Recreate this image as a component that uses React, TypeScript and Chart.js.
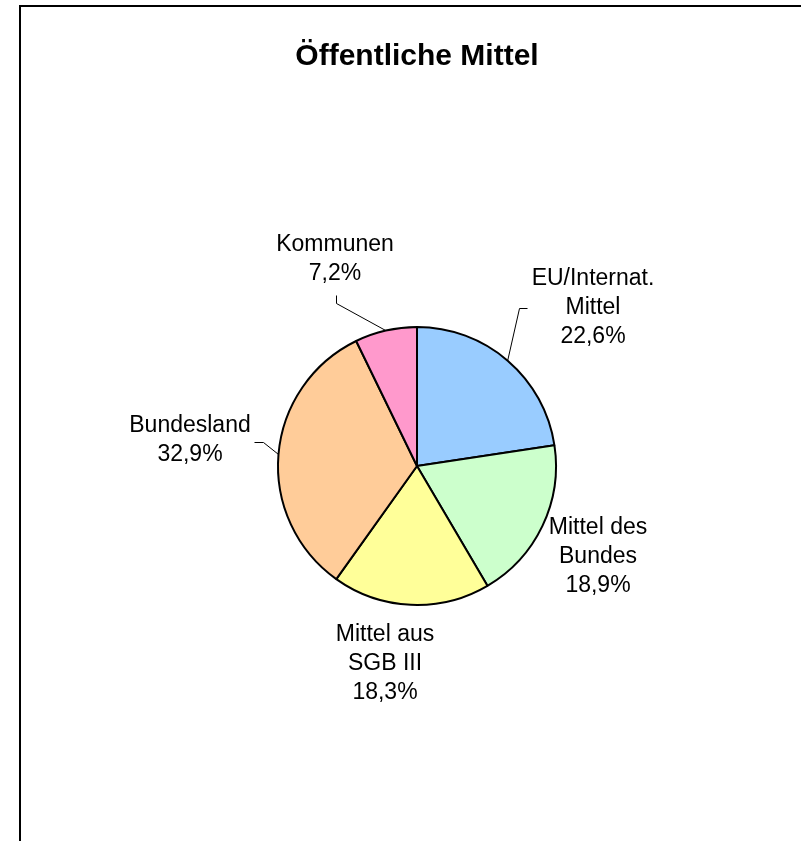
import React, { useEffect, useRef } from "react";
import { Chart, registerables } from "chart.js";

Chart.register(...registerables);

const TITLE = "Öffentliche Mittel";
const categories = ["EU/Internat. Mittel", "Mittel des Bundes", "Mittel aus SGB III", "Bundesland", "Kommunen"];
const values = [22.6, 18.9, 18.3, 32.9, 7.2];
const labelLines = [
  ["EU/Internat.", "Mittel"],
  ["Mittel des", "Bundes"],
  ["Mittel aus", "SGB III"],
  ["Bundesland"],
  ["Kommunen"],
];
const colors = ["#99CCFF", "#CCFFCC", "#FFFF99", "#FFCC99", "#FF99CC"];

// label block centre relative to pie centre, and leader elbow points (relative to pie centre)
const labelLayout = [
  { dx: 176, dy: -158, leader: [[110, -158], [102, -158]] },
  { dx: 181, dy: 91, leader: null },
  { dx: -32, dy: 198, leader: null },
  { dx: -227, dy: -26, leader: [[-163, -24], [-154, -24]] },
  { dx: -82, dy: -207, leader: [[-81, -171], [-81, -163]] },
];

const FONT = '"Liberation Sans", Arial, Helvetica, sans-serif';
const fmt = (v: number) => v.toFixed(1).replace(".", ",") + "%";

const decorPlugin = {
  id: "decor",
  beforeDraw(chart: any) {
    const ctx = chart.ctx;
    ctx.save();
    ctx.fillStyle = "#ffffff";
    ctx.fillRect(0, 0, chart.width, chart.height);
    ctx.strokeStyle = "#000000";
    ctx.lineWidth = 2;
    ctx.beginPath();
    ctx.moveTo(20, chart.height);
    ctx.lineTo(20, 6);
    ctx.lineTo(chart.width, 6);
    ctx.stroke();
    // title
    ctx.fillStyle = "#000";
    ctx.font = "bold 30px " + FONT;
    ctx.textAlign = "center";
    ctx.textBaseline = "alphabetic";
    ctx.fillText(TITLE, 417, 65);
    ctx.restore();
  },
  afterDatasetsDraw(chart: any) {
    const ctx = chart.ctx;
    const meta = chart.getDatasetMeta(0);
    ctx.save();
    meta.data.forEach((arc: any, i: number) => {
      const p = arc.getProps(["x", "y", "startAngle", "endAngle", "outerRadius"], true);
      const cx = p.x, cy = p.y;
      const lay = labelLayout[i];
      const lines = [...labelLines[i], fmt(values[i])];
      const lh = 29;
      ctx.font = "23px " + FONT;
      ctx.fillStyle = "#000";
      ctx.textAlign = "center";
      ctx.textBaseline = "middle";
      const bx = cx + lay.dx, by = cy + lay.dy;
      lines.forEach((t, k) => {
        ctx.fillText(t, bx, by + (k - (lines.length - 1) / 2) * lh);
      });
      if (lay.leader) {
        const mid = (p.startAngle + p.endAngle) / 2;
        const ex = cx + p.outerRadius * Math.cos(mid);
        const ey = cy + p.outerRadius * Math.sin(mid);
        ctx.strokeStyle = "#000";
        ctx.lineWidth = 1;
        ctx.beginPath();
        ctx.moveTo(cx + lay.leader[0][0] + 0.5, cy + lay.leader[0][1] + 0.5);
        ctx.lineTo(cx + lay.leader[1][0] + 0.5, cy + lay.leader[1][1] + 0.5);
        ctx.lineTo(ex, ey);
        ctx.stroke();
      }
    });
    ctx.restore();
  },
};

export default function App() {
  const ref = useRef<HTMLCanvasElement>(null);
  useEffect(() => {
    if (!ref.current) return;
    const chart = new Chart(ref.current, {
      type: "pie",
      data: {
        labels: categories,
        datasets: [
          {
            data: values,
            backgroundColor: colors,
            borderColor: "#000000",
            borderWidth: 2,
          },
        ],
      },
      options: {
        responsive: false,
        animation: false,
        devicePixelRatio: 1,
        events: [],
        layout: { padding: { left: 277, right: 244, top: 326, bottom: 235 } },
        plugins: {
          legend: { display: false },
          title: { display: false },
          tooltip: { enabled: false },
        },
      },
      plugins: [decorPlugin],
    });
    return () => chart.destroy();
  }, []);
  return (
    <canvas
      ref={ref}
      width={801}
      height={841}
      style={{ position: "absolute", left: 0, top: 0, width: 801, height: 841 }}
    />
  );
}
